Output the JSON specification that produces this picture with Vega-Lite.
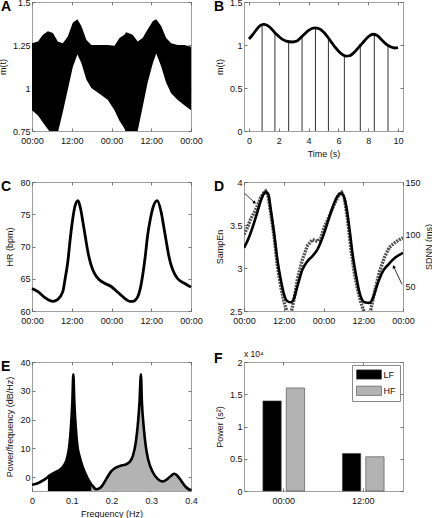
{
  "$schema": "https://vega.github.io/schema/vega-lite/v6.json",
  "padding": {"left": -3, "top": -3, "right": 0, "bottom": 0},
  "background": "white",
  "bounds": "flush",
  "columns": 2,
  "spacing": {"row": 51, "column": 53},
  "resolve": {"legend": {"color": "independent"}},
  "datasets": {
    "a": [
      {"h": 0, "lo": 0.87, "hi": 1.26}, {"h": 1.8, "lo": 0.84, "hi": 1.27}, {"h": 3.3, "lo": 0.8, "hi": 1.31},
      {"h": 4.8, "lo": 0.76, "hi": 1.33}, {"h": 6.3, "lo": 0.72, "hi": 1.32}, {"h": 7.8, "lo": 0.74, "hi": 1.27},
      {"h": 9.3, "lo": 0.86, "hi": 1.26}, {"h": 10.8, "lo": 0.99, "hi": 1.3}, {"h": 12.3, "lo": 1.12, "hi": 1.38},
      {"h": 13.7, "lo": 1.195, "hi": 1.4}, {"h": 14.9, "lo": 1.145, "hi": 1.36}, {"h": 16.4, "lo": 1.05, "hi": 1.28},
      {"h": 17.9, "lo": 1.0, "hi": 1.25}, {"h": 20.9, "lo": 0.96, "hi": 1.25}, {"h": 22.9, "lo": 0.93, "hi": 1.25},
      {"h": 24.9, "lo": 0.87, "hi": 1.245}, {"h": 26.4, "lo": 0.81, "hi": 1.29}, {"h": 27.9, "lo": 0.765, "hi": 1.31},
      {"h": 28.4, "lo": 0.74, "hi": 1.324}, {"h": 30.4, "lo": 0.72, "hi": 1.31}, {"h": 31.9, "lo": 0.75, "hi": 1.27},
      {"h": 33.4, "lo": 0.89, "hi": 1.29}, {"h": 34.9, "lo": 1.03, "hi": 1.34}, {"h": 36.5, "lo": 1.145, "hi": 1.39},
      {"h": 37.5, "lo": 1.2, "hi": 1.4}, {"h": 39, "lo": 1.125, "hi": 1.36}, {"h": 40.5, "lo": 1.03, "hi": 1.29},
      {"h": 42, "lo": 0.97, "hi": 1.26}, {"h": 44, "lo": 0.93, "hi": 1.25}, {"h": 46, "lo": 0.9, "hi": 1.25},
      {"h": 48, "lo": 0.87, "hi": 1.24}
    ],
    "bcurve": [
      {"t": 0, "m": 1.07}, {"t": 0.25, "m": 1.12}, {"t": 0.5, "m": 1.18}, {"t": 0.75, "m": 1.225}, {"t": 0.95, "m": 1.24},
      {"t": 1.25, "m": 1.225}, {"t": 1.5, "m": 1.19}, {"t": 1.75, "m": 1.14}, {"t": 2.0, "m": 1.1}, {"t": 2.25, "m": 1.065},
      {"t": 2.5, "m": 1.045}, {"t": 2.9, "m": 1.035}, {"t": 3.25, "m": 1.05}, {"t": 3.5, "m": 1.09}, {"t": 3.75, "m": 1.13},
      {"t": 4.0, "m": 1.17}, {"t": 4.4, "m": 1.2}, {"t": 4.75, "m": 1.185}, {"t": 5.0, "m": 1.15}, {"t": 5.25, "m": 1.1},
      {"t": 5.5, "m": 1.04}, {"t": 5.75, "m": 0.98}, {"t": 6.0, "m": 0.93}, {"t": 6.25, "m": 0.89}, {"t": 6.5, "m": 0.87},
      {"t": 6.75, "m": 0.875}, {"t": 7.0, "m": 0.905}, {"t": 7.25, "m": 0.95}, {"t": 7.5, "m": 1.0}, {"t": 7.75, "m": 1.05},
      {"t": 8.0, "m": 1.095}, {"t": 8.3, "m": 1.125}, {"t": 8.6, "m": 1.11}, {"t": 8.9, "m": 1.06}, {"t": 9.2, "m": 1.01},
      {"t": 9.5, "m": 0.98}, {"t": 9.75, "m": 0.965}, {"t": 10.0, "m": 0.97}
    ],
    "beats": [
      {"t": 0.88, "m": 1.235}, {"t": 1.74, "m": 1.14}, {"t": 2.66, "m": 1.04}, {"t": 3.56, "m": 1.1}, {"t": 4.46, "m": 1.2},
      {"t": 5.33, "m": 1.085}, {"t": 6.4, "m": 0.875}, {"t": 7.47, "m": 0.995}, {"t": 8.41, "m": 1.12}, {"t": 9.33, "m": 1.0}
    ],
    "c": [
      {"h": 0, "hr": 63.5}, {"h": 1.8, "hr": 63.0}, {"h": 3.8, "hr": 62.1}, {"h": 5.5, "hr": 61.6}, {"h": 6.3, "hr": 61.5},
      {"h": 7.8, "hr": 61.8}, {"h": 9.3, "hr": 63.0}, {"h": 10.0, "hr": 65.0}, {"h": 10.8, "hr": 67.6}, {"h": 11.5, "hr": 71.0},
      {"h": 12.3, "hr": 74.3}, {"h": 13.0, "hr": 76.3}, {"h": 13.9, "hr": 77.1}, {"h": 14.6, "hr": 76.0}, {"h": 15.4, "hr": 73.7},
      {"h": 16.2, "hr": 71.2}, {"h": 16.9, "hr": 69.1}, {"h": 17.8, "hr": 67.2}, {"h": 18.9, "hr": 65.8}, {"h": 20.4, "hr": 64.8},
      {"h": 21.9, "hr": 64.3}, {"h": 23.9, "hr": 63.8}, {"h": 25.9, "hr": 62.9}, {"h": 27.9, "hr": 62.0}, {"h": 29.5, "hr": 61.5},
      {"h": 30.4, "hr": 61.5}, {"h": 31.9, "hr": 62.2}, {"h": 32.7, "hr": 63.5}, {"h": 33.4, "hr": 65.5}, {"h": 34.2, "hr": 68.5},
      {"h": 34.9, "hr": 71.7}, {"h": 35.7, "hr": 74.2}, {"h": 36.5, "hr": 76.0}, {"h": 37.8, "hr": 77.1}, {"h": 39.0, "hr": 75.3},
      {"h": 39.8, "hr": 73.0}, {"h": 40.5, "hr": 70.9}, {"h": 41.2, "hr": 68.8}, {"h": 42.0, "hr": 67.1}, {"h": 43.0, "hr": 65.8},
      {"h": 44.0, "hr": 65.0}, {"h": 46.0, "hr": 64.3}, {"h": 48.0, "hr": 63.7}
    ],
    "dse": [
      {"h": 0, "se": 3.39}, {"h": 1.01, "se": 3.47}, {"h": 2.02, "se": 3.57}, {"h": 3.03, "se": 3.64}, {"h": 4.03, "se": 3.72},
      {"h": 5.04, "se": 3.82}, {"h": 6.05, "se": 3.88}, {"h": 6.55, "se": 3.895}, {"h": 7.26, "se": 3.84}, {"h": 8.07, "se": 3.64},
      {"h": 9.08, "se": 3.37}, {"h": 10.08, "se": 3.02}, {"h": 11.09, "se": 2.79}, {"h": 12.1, "se": 2.6}, {"h": 13.11, "se": 2.48},
      {"h": 13.61, "se": 2.44}, {"h": 14.12, "se": 2.46}, {"h": 15.13, "se": 2.64}, {"h": 16.13, "se": 2.87}, {"h": 17.65, "se": 3.1},
      {"h": 19.16, "se": 3.26}, {"h": 20.67, "se": 3.33}, {"h": 22.18, "se": 3.31}, {"h": 23.19, "se": 3.35}, {"h": 24.2, "se": 3.47},
      {"h": 25.71, "se": 3.6}, {"h": 27.23, "se": 3.74}, {"h": 28.74, "se": 3.86}, {"h": 29.45, "se": 3.88}, {"h": 30.25, "se": 3.82},
      {"h": 31.26, "se": 3.57}, {"h": 32.27, "se": 3.22}, {"h": 33.28, "se": 2.95}, {"h": 34.29, "se": 2.75}, {"h": 35.29, "se": 2.6},
      {"h": 36.3, "se": 2.48}, {"h": 37.31, "se": 2.44}, {"h": 38.32, "se": 2.52}, {"h": 39.33, "se": 2.71}, {"h": 40.84, "se": 2.95},
      {"h": 42.35, "se": 3.12}, {"h": 43.87, "se": 3.24}, {"h": 45.38, "se": 3.29}, {"h": 46.89, "se": 3.33}, {"h": 48, "se": 3.35}
    ],
    "dms": [
      {"h": 0, "ms": 87.3}, {"h": 1.01, "ms": 93.6}, {"h": 2.02, "ms": 101.6}, {"h": 3.03, "ms": 111.1}, {"h": 4.03, "ms": 121.3},
      {"h": 5.04, "ms": 131.8}, {"h": 6.05, "ms": 139.2}, {"h": 6.65, "ms": 140.4}, {"h": 7.36, "ms": 138.2}, {"h": 8.07, "ms": 123.9},
      {"h": 9.08, "ms": 101.6}, {"h": 10.08, "ms": 76}, {"h": 11.09, "ms": 57}, {"h": 12.1, "ms": 42.7}, {"h": 13.11, "ms": 36.3},
      {"h": 14.12, "ms": 35.3}, {"h": 15.13, "ms": 39.5}, {"h": 16.13, "ms": 50.6}, {"h": 17.65, "ms": 66.6}, {"h": 19.16, "ms": 74.5},
      {"h": 20.67, "ms": 79.3}, {"h": 22.18, "ms": 85.7}, {"h": 23.69, "ms": 96.8}, {"h": 25.21, "ms": 111.1}, {"h": 26.72, "ms": 125.5},
      {"h": 28.24, "ms": 136.6}, {"h": 29.45, "ms": 139.2}, {"h": 30.86, "ms": 127.1}, {"h": 31.86, "ms": 104.8}, {"h": 32.87, "ms": 79.3},
      {"h": 33.88, "ms": 60.2}, {"h": 34.89, "ms": 44.3}, {"h": 36.4, "ms": 35.3}, {"h": 37.92, "ms": 34.7}, {"h": 38.93, "ms": 39.5},
      {"h": 40.44, "ms": 53.8}, {"h": 41.95, "ms": 65}, {"h": 43.56, "ms": 71.3}, {"h": 45.58, "ms": 77.7}, {"h": 48, "ms": 82.5}
    ],
    "arrows": [
      {"id": "L", "h": 0.2, "se": 3.868, "h2": 3.23, "se2": 3.76},
      {"id": "R", "h": 47.7, "se": 2.81, "h2": 45.18, "se2": 3.016}
    ],
    "heads": [
      {"id": "L", "h": 3.23, "se": 3.76},
      {"id": "R", "h": 45.18, "se": 3.016}
    ],
    "e": [
      {"f": 0, "db": -2.6}, {"f": 0.011, "db": -2.3}, {"f": 0.023, "db": -1.5}, {"f": 0.036, "db": -0.35}, {"f": 0.04, "db": 0.1},
      {"f": 0.044, "db": 0.6}, {"f": 0.057, "db": 1.6}, {"f": 0.069, "db": 2.5}, {"f": 0.08, "db": 4.0}, {"f": 0.088, "db": 6.5},
      {"f": 0.094, "db": 11.0}, {"f": 0.098, "db": 17.5}, {"f": 0.1015, "db": 26.0}, {"f": 0.104, "db": 35.7}, {"f": 0.1065, "db": 26.0},
      {"f": 0.11, "db": 17.5}, {"f": 0.114, "db": 11.0}, {"f": 0.12, "db": 7.0}, {"f": 0.128, "db": 3.4}, {"f": 0.14, "db": -0.4},
      {"f": 0.15, "db": -2.6}, {"f": 0.162, "db": -4.2}, {"f": 0.174, "db": -3.4}, {"f": 0.187, "db": -0.6}, {"f": 0.199, "db": 2.0},
      {"f": 0.212, "db": 3.4}, {"f": 0.223, "db": 4.0}, {"f": 0.234, "db": 4.3}, {"f": 0.245, "db": 5.2}, {"f": 0.254, "db": 7.5},
      {"f": 0.261, "db": 12.0}, {"f": 0.266, "db": 18.0}, {"f": 0.2705, "db": 26.0}, {"f": 0.274, "db": 35.7}, {"f": 0.2765, "db": 26.0},
      {"f": 0.281, "db": 17.5}, {"f": 0.286, "db": 11.0}, {"f": 0.292, "db": 6.3}, {"f": 0.304, "db": 1.7}, {"f": 0.316, "db": -0.6},
      {"f": 0.329, "db": -1.5}, {"f": 0.341, "db": -0.6}, {"f": 0.351, "db": 0.6}, {"f": 0.358, "db": 1.2}, {"f": 0.365, "db": 0.6},
      {"f": 0.375, "db": -1.2}, {"f": 0.387, "db": -3.4}, {"f": 0.4, "db": -4.6}
    ],
    "fbars": [
      {"t": "00:00", "band": "LF", "p": 13970}, {"t": "00:00", "band": "HF", "p": 15980},
      {"t": "12:00", "band": "LF", "p": 5820}, {"t": "12:00", "band": "HF", "p": 5310}
    ]
  },
  "concat": [
    {
      "width": 159, "height": 129,
      "title": {"text": "A", "dx": -31, "dy": 20},
      "data": {"name": "a"},
      "mark": {"type": "area", "color": "black", "clip": true},
      "encoding": {
        "x": {"field": "h", "type": "quantitative", "scale": {"domain": [0, 48], "nice": false},
              "axis": {"values": [0, 12, 24, 36, 48], "labelExpr": "datum.value % 24 == 0 ? '00:00' : '12:00'", "title": null, "labelOverlap": false}},
        "y": {"field": "lo", "type": "quantitative", "scale": {"domain": [0.75, 1.5], "nice": false, "zero": false},
              "axis": {"values": [0.75, 1, 1.25, 1.5], "labelExpr": "'' + datum.value", "title": "m(t)", "labelOverlap": false}},
        "y2": {"field": "hi"}
      }
    },
    {
      "width": 159, "height": 129,
      "title": {"text": "B", "dx": -30, "dy": 20},
      "encoding": {
        "x": {"field": "t", "type": "quantitative", "scale": {"domain": [0, 10], "nice": false},
              "axis": {"values": [0, 2, 4, 6, 8, 10], "labelExpr": "'' + datum.value", "title": "Time (s)", "labelOverlap": false}},
        "y": {"field": "m", "type": "quantitative", "scale": {"domain": [0, 1.5], "nice": false},
              "axis": {"values": [0, 0.5, 1, 1.5], "labelExpr": "'' + datum.value", "title": "m(t)", "labelOverlap": false}}
      },
      "layer": [
        {
          "data": {"name": "beats"},
          "mark": {"type": "bar", "color": "#333", "width": 1}
        },
        {
          "data": {"name": "bcurve"},
          "mark": {"type": "line", "color": "black", "strokeWidth": 2.8, "interpolate": "monotone"}
        }
      ]
    },
    {
      "width": 159, "height": 129,
      "title": {"text": "C", "dx": -31, "dy": 20},
      "data": {"name": "c"},
      "mark": {"type": "line", "color": "black", "strokeWidth": 2.8, "interpolate": "monotone"},
      "encoding": {
        "x": {"field": "h", "type": "quantitative", "scale": {"domain": [0, 48], "nice": false},
              "axis": {"values": [0, 12, 24, 36, 48], "labelExpr": "datum.value % 24 == 0 ? '00:00' : '12:00'", "title": null, "labelOverlap": false}},
        "y": {"field": "hr", "type": "quantitative", "scale": {"domain": [60, 80], "nice": false, "zero": false},
              "axis": {"values": [60, 65, 70, 75, 80], "labelExpr": "'' + datum.value", "title": "HR (bpm)", "labelOverlap": false}}
      }
    },
    {
      "width": 159, "height": 129,
      "title": {"text": "D", "dx": -30, "dy": 20},
      "encoding": {
        "x": {"field": "h", "type": "quantitative", "scale": {"domain": [0, 48], "nice": false},
              "axis": {"values": [0, 12, 24, 36, 48], "labelExpr": "datum.value % 24 == 0 ? '00:00' : '12:00'", "title": null, "labelOverlap": false}}
      },
      "layer": [
        {
          "encoding": {
            "y": {"field": "se", "type": "quantitative", "scale": {"domain": [2.5, 4], "nice": false, "zero": false},
                  "axis": {"values": [2.5, 3, 3.5, 4], "labelExpr": "'' + datum.value", "title": "SampEn", "gridDash": [3, 1000], "labelOverlap": false}}
          },
          "layer": [
            {
              "data": {"name": "dse"},
              "mark": {"type": "line", "color": "#505050", "strokeWidth": 3.4, "strokeDash": [2, 1], "clip": true}
            },
            {
              "data": {"name": "arrows"},
              "mark": {"type": "rule", "color": "black", "strokeWidth": 0.8},
              "encoding": {
                "x2": {"field": "h2"},
                "y2": {"field": "se2"}
              }
            },
            {
              "data": {"name": "heads"},
              "transform": [{"filter": "datum.id == 'L'"}],
              "mark": {"type": "point", "shape": "triangle-up", "filled": true, "color": "black", "size": 14, "angle": 133, "opacity": 1}
            },
            {
              "data": {"name": "heads"},
              "transform": [{"filter": "datum.id == 'R'"}],
              "mark": {"type": "point", "shape": "triangle-up", "filled": true, "color": "black", "size": 14, "angle": 335, "opacity": 1}
            }
          ]
        },
        {
          "data": {"name": "dms"},
          "mark": {"type": "line", "color": "black", "strokeWidth": 2.6, "interpolate": "monotone", "clip": true},
          "encoding": {
            "y": {"field": "ms", "type": "quantitative", "scale": {"domain": [27, 150], "nice": false, "zero": false},
                  "axis": {"orient": "right", "values": [50, 100, 150], "labelExpr": "'' + datum.value", "title": "SDNN (ms)",
                           "titleAngle": 270, "titleBaseline": "top", "titleAlign": "center", "titleX": 21, "titleY": 64.5,
                           "gridDash": [3, 1000], "labelOverlap": false}}
          }
        }
      ],
      "resolve": {"scale": {"y": "independent"}}
    },
    {
      "width": 159, "height": 129,
      "title": {"text": "E", "dx": -31, "dy": 20},
      "data": {"name": "e"},
      "encoding": {
        "x": {"field": "f", "type": "quantitative", "scale": {"domain": [0, 0.4], "nice": false},
              "axis": {"values": [0, 0.1, 0.2, 0.3, 0.4], "labelExpr": "'' + datum.value", "title": "Frequency (Hz)", "labelOverlap": false}},
        "y": {"field": "db", "type": "quantitative", "scale": {"domain": [-4.8, 40], "nice": false, "zero": false},
              "axis": {"values": [0, 10, 20, 30, 40], "labelExpr": "'' + datum.value", "title": "Power/frequency (dB/Hz)", "labelOverlap": false}}
      },
      "layer": [
        {
          "transform": [{"filter": "datum.f >= 0.04 && datum.f <= 0.15"}],
          "mark": {"type": "area", "color": "black", "interpolate": "monotone"},
          "encoding": {"y2": {"datum": -4.8}}
        },
        {
          "transform": [{"filter": "datum.f >= 0.15"}],
          "mark": {"type": "area", "color": "#b3b3b3", "interpolate": "monotone"},
          "encoding": {"y2": {"datum": -4.8}}
        },
        {
          "mark": {"type": "line", "color": "black", "strokeWidth": 2.6, "interpolate": "monotone"}
        }
      ]
    },
    {
      "width": 159, "height": 129,
      "title": {"text": "F", "dx": -30, "dy": 20},
      "layer": [
        {
          "data": {"name": "fbars"},
          "mark": {"type": "bar", "stroke": "#444", "strokeWidth": 0.6},
          "encoding": {
            "x": {"field": "t", "type": "nominal", "scale": {"paddingInner": 0, "paddingOuter": 0},
                  "axis": {"labelAngle": 0, "title": null, "bandPosition": 0.5, "labelOverlap": false}},
            "xOffset": {"field": "band", "type": "nominal", "scale": {"domain": ["LF", "HF"], "paddingInner": 0.215, "paddingOuter": 0.81}},
            "y": {"field": "p", "type": "quantitative", "scale": {"domain": [0, 20000], "nice": false},
                  "axis": {"values": [0, 5000, 10000, 15000, 20000], "labelExpr": "'' + (datum.value / 10000)", "title": "Power (s²)", "labelOverlap": false}},
            "color": {"field": "band", "type": "nominal", "scale": {"domain": ["LF", "HF"], "range": ["#000000", "#b3b3b3"]},
                      "legend": {"title": null, "orient": "top-right", "offset": 3, "padding": 4, "strokeColor": "#8a8a8a", "fillColor": "white",
                                 "symbolType": "M-2.5,-0.93H2.5V0.93H-2.5Z", "symbolSize": 100, "symbolStrokeColor": "#444", "symbolStrokeWidth": 0.6,
                                 "symbolOffset": 7.5, "labelOffset": 9, "rowPadding": 3.3, "labelFontSize": 9, "labelColor": "#111"}}
          }
        },
        {
          "data": {"values": [{}]},
          "mark": {"type": "text", "align": "left", "baseline": "alphabetic", "fontSize": 8.5, "dy": -5, "color": "#111"},
          "encoding": {
            "x": {"value": 0},
            "y": {"value": 0},
            "text": {"value": "x 10⁴"}
          }
        }
      ]
    }
  ],
  "config": {
    "font": "Liberation Sans",
    "view": {"stroke": "#a0a0a0", "strokeWidth": 1},
    "axis": {
      "labelFontSize": 9, "titleFontSize": 9, "titleFontWeight": "normal",
      "labelColor": "#111", "titleColor": "#111",
      "domain": false, "ticks": false, "grid": true, "gridColor": "#555", "gridWidth": 0.8,
      "titlePadding": 5, "labelFlush": false, "labelOverlap": false
    },
    "axisX": {"gridDash": [3, 123, 3, 1000], "labelPadding": 5, "titlePadding": 4},
    "axisY": {"gridDash": [3, 153, 3, 1000], "labelPadding": 2},
    "title": {"font": "Liberation Sans", "fontSize": 14, "fontWeight": "bold", "anchor": "start", "frame": "group", "offset": 0, "color": "black"}
  }
}
